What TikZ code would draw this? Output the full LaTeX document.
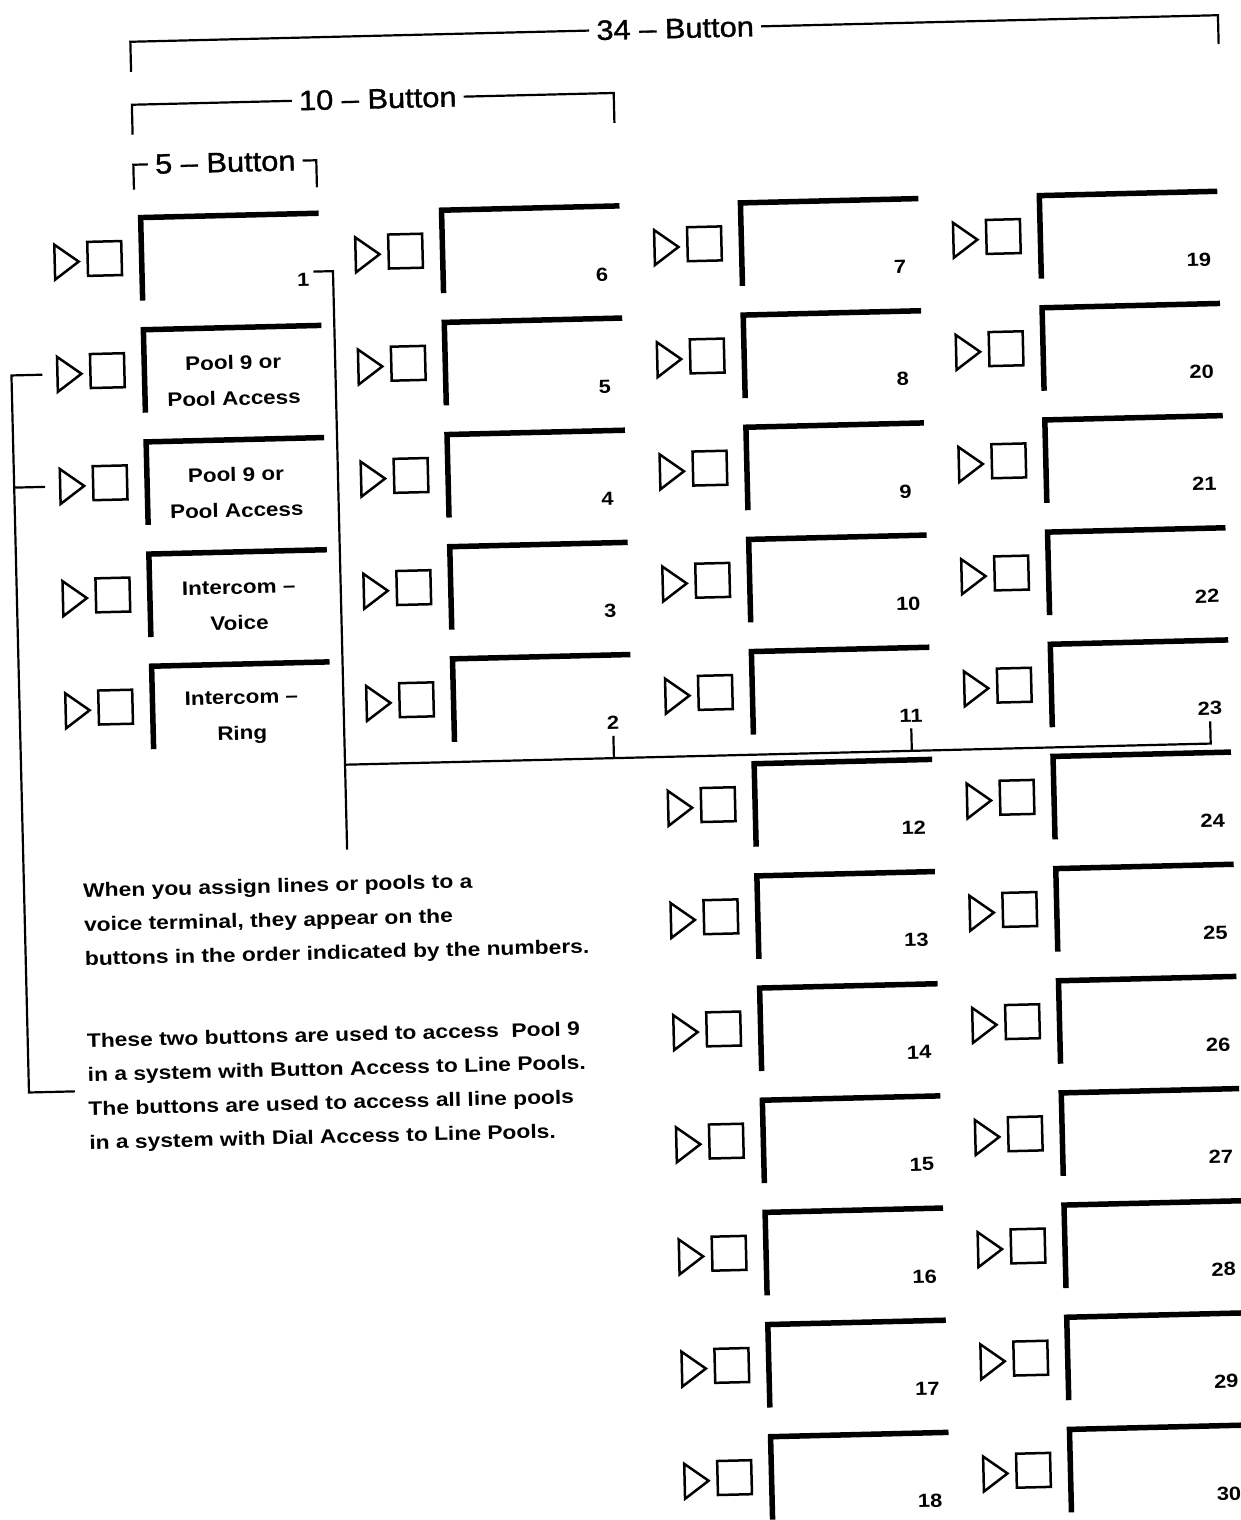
\documentclass[tikz,border=0pt]{standalone}
\usepackage{fontspec}
\newfontfamily\txtfont{Liberation Sans}[FakeStretch=1.15]
\newfontfamily\parfont{Liberation Sans}[FakeStretch=1.17]
\newfontfamily\ttlfont{Liberation Sans}[FakeStretch=1.1, FakeBold=1.2]
\tikzset{
  tri/.style={line width=2.5pt, line join=miter},
  sq/.style={draw, line width=2.5pt, minimum size=34pt, inner sep=0pt},
  bar/.style={line width=5.5pt, line cap=butt, line join=miter},
  conn/.style={line width=2.2pt},
  num/.style={font=\txtfont\bfseries\fontsize{19}{22}\selectfont, inner sep=1pt},
  lbl/.style={font=\txtfont\bfseries\fontsize{19.5}{36}\selectfont, align=center, inner sep=0pt},
  para/.style={font=\parfont\bfseries\fontsize{19.5}{34}\selectfont, align=left, inner sep=0pt, anchor=north west},
  ttl/.style={font=\ttlfont\fontsize{28}{30}\selectfont, inner sep=7pt},
}
% one button: triangle, square, thick corner bracket
\newcommand\btncell[3]{%
  \draw[tri] ({#1-32},{#2+3}) -- ({#1-8},{#2+20.5}) -- ({#1-32},{#2+38}) -- cycle;
  \node[sq] (sq#3) at ({#1+18},{#2+18}) {};
  \draw[bar] ({#1+55},{#2+61}) -- ({#1+55},{#2-22}) -- ({#1+233},{#2-22});
  \coordinate (tp#3) at ({#1-32},{#2+20.5});
}
\begin{document}
\begin{tikzpicture}[x=1pt, y=-1pt]
\fill[white] (0,0) rectangle (1241,1520);
\useasboundingbox (0,0) rectangle (1241,1520);
\begin{scope}[rotate around={1.4:(620,760)}, transform shape]

% ---------- titles ----------
\node[ttl] (t34) at (693,30) {34 – Button};
\coordinate (t34l) at (148,30); \coordinate (t34ld) at (148,60);
\coordinate (t34r) at (1236,30); \coordinate (t34rd) at (1236,59);
\draw[conn] (t34.west) -- (t34l) -- (t34ld);
\draw[conn] (t34.east) -- (t34r) -- (t34rd);

\node[ttl] (t10) at (394,93) {10 – Button};
\coordinate (t10l) at (148,93); \coordinate (t10ld) at (148,123);
\coordinate (t10r) at (630,93); \coordinate (t10rd) at (630,123);
\draw[conn] (t10.west) -- (t10l) -- (t10ld);
\draw[conn] (t10.east) -- (t10r) -- (t10rd);

\node[ttl] (t5) at (240,153) {5 – Button};
\coordinate (t5l) at (148,153); \coordinate (t5ld) at (148,178);
\coordinate (t5r) at (331,153); \coordinate (t5rd) at (331,180);
\draw[conn] (t5.west) -- (t5l) -- (t5ld);
\draw[conn] (t5.east) -- (t5r) -- (t5rd);

% ---------- column 1 (5-button) ----------
\btncell{99}{228}{a1}
\node[num] (n1) at (315,272) {1};
\btncell{99}{340.2}{a2}
\node[lbl] (p1) at (243,371) {Pool 9 or\\Pool Access};
\btncell{99}{452.4}{a3}
\node[lbl] (p2) at (243,483) {Pool 9 or\\Pool Access};
\btncell{99}{564.6}{a4}
\node[lbl] (p3) at (243,596) {Intercom –\\Voice};
\btncell{99}{676.8}{a5}
\node[lbl] (p4) at (243,708) {Intercom –\\Ring};

% ---------- column 2 ----------
\foreach \r/\n in {1/6,2/5,3/4,4/3,5/2} {
  \btncell{400}{228+112.2*(\r-1)}{b\r}
  \node[num] (n\n) at (614,{228+112.2*(\r-1)+46}) {\n};
}

% ---------- columns 3 and 4 ----------
\foreach \r in {1,...,12} {
  \pgfmathtruncatemacro\nc{\r+6}
  \pgfmathtruncatemacro\nd{\r+18}
  \btncell{699}{228+112.2*(\r-1)}{c\r}
  \node[num] (n\nc) at (912,{228+112.2*(\r-1)+46}) {\nc};
  \btncell{998}{228+112.2*(\r-1)}{d\r}
  \node[num] (n\nd) at (1211,{228+112.2*(\r-1)+46}) {\nd};
}

% ---------- order connector ----------
\coordinate (vtop) at (345,266);
\coordinate (vbot) at (345,843);
\coordinate (hl) at (345,758);
\draw[conn] ([xshift=3pt]n1.north east) -- (n1.north east -| vtop) -- (vbot);
\draw[conn] (hl) -- (hl -| n23) -- ([yshift=-5pt]n23.south);
\draw[conn] ([yshift=-5pt]n2.south) -- (n2 |- hl);
\draw[conn] ([yshift=-5pt]n11.south) -- (n11 |- hl);

% ---------- pool bracket ----------
\coordinate (lbx) at (21,0);
\coordinate (lbbot) at (21,1078);
\coordinate (lbend) at (67,1078);
\draw[conn] ([xshift=-15pt]tpa2) -- (tpa2 -| lbx) -- (lbbot) -- (lbend);
\draw[conn] ([xshift=-15pt]tpa3) -- (tpa3 -| lbx);

% ---------- notes ----------
\node[para] (para1) at (80,870) {When you assign lines or pools to a\\voice terminal, they appear on the\\buttons in the order indicated by the numbers.};
\node[para] (para2) at (80,1020) {These two buttons are used to access\ \ Pool 9\\in a system with Button Access to Line Pools.\\The buttons are used to access all line pools\\in a system with Dial Access to Line Pools.};

\end{scope}
\end{tikzpicture}
\end{document}
